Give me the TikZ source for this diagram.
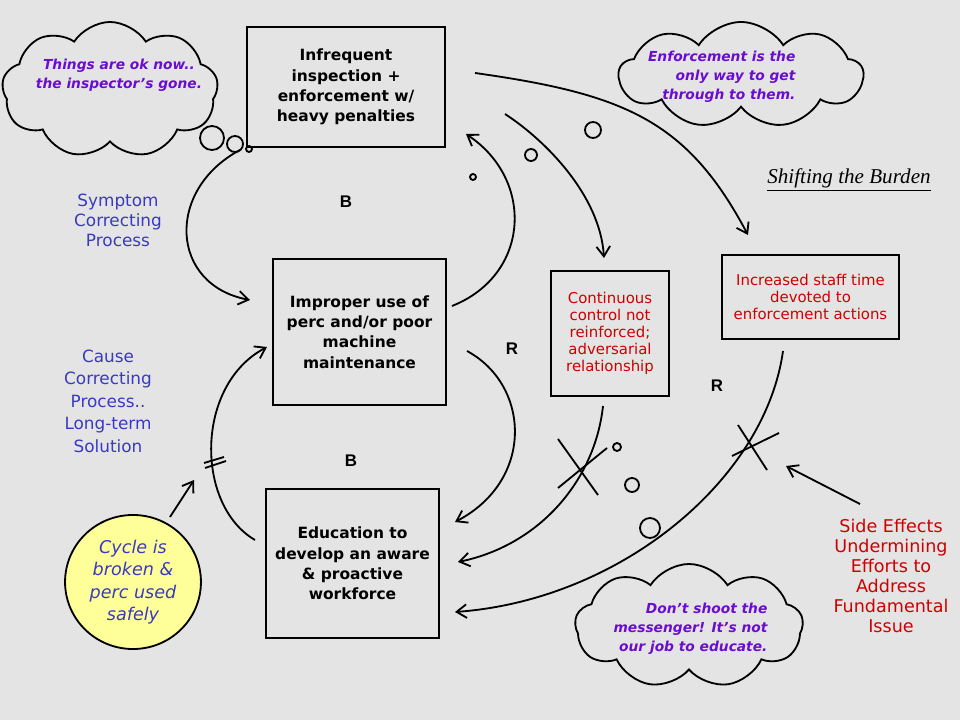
\documentclass[tikz,border=0pt]{standalone}
\usepackage{fontspec}
\setmainfont{DejaVu Sans}
\newfontfamily\labfont{Liberation Sans}
\newfontfamily\burdenfont{Liberation Serif}
\usetikzlibrary{arrows.meta,shapes.geometric,shapes.symbols}
\definecolor{paper}{HTML}{E4E4E4}
\definecolor{noteblue}{HTML}{3A3AC0}
\definecolor{thinkpurple}{HTML}{6A0DD0}
\definecolor{effectred}{HTML}{D00000}
\definecolor{safeyellow}{HTML}{FFFF99}
\begin{document}
\begin{tikzpicture}[x=0.025cm,y=-0.025cm,line width=1.3pt,
    >={Straight Barb[length=2.5mm,width=3.4mm]},
    box/.style={draw,rectangle,align=center,font=\fontsize{11}{14.5}\selectfont\bfseries},
    redbox/.style={draw,rectangle,align=center,text=effectred,font=\fontsize{10.6}{12.2}\selectfont},
    think/.style={draw,cloud,cloud puffs=9,cloud puff arc=115},
    thought/.style={text=thinkpurple,font=\fontsize{9.8}{13.5}\selectfont\bfseries\itshape},
    note/.style={text=noteblue,align=center,font=\fontsize{12}{14.2}\selectfont},
    loop/.style={font=\labfont\fontsize{12}{14}\selectfont\bfseries}]
        \fill [paper] (0,0) rectangle (960,720);
        \node [think,minimum width=5.4cm,minimum height=3.4cm] (okcloud) at (110,90) {};
        \node [think,minimum width=6.1cm,minimum height=2.65cm] (onlycloud) at (741,75) {};
        \node [think,minimum width=5.7cm,minimum height=3.1cm] (shootcloud) at (689,626) {};
        \node [thought,align=center] (oktext) at (119,75) {Things are ok now..\\the inspector’s gone.};
        \node [thought,align=right,anchor=east] (onlytext) at (801,77) {Enforcement is the\\only way to get\\through to them.};
        \node [thought,align=right,anchor=east] (shoottext) at (773,629) {Don’t shoot the\\messenger! It’s not\\our job to educate.};
        \foreach \x/\y/\r in {212/138/12,235/144/8,249/149/3,593/130/8,531/155/6,473/177/3,617/447/4,632/485/7,650/528/10}
          \draw (\x,\y) circle [radius=\r*0.025cm];
        \node [box,minimum width=4.95cm,minimum height=3cm] (inspect) at (346,87) {Infrequent\\inspection +\\enforcement w/\\heavy penalties};
        \node [box,minimum width=4.325cm,minimum height=3.65cm] (improper) at (359.5,332) {Improper use of\\perc and/or poor\\machine\\maintenance};
        \node [box,minimum width=4.325cm,minimum height=3.725cm] (educate) at (352.5,563.5) {Education to\\develop an aware\\\& proactive\\workforce};
        \node [redbox,minimum width=2.95cm,minimum height=3.125cm] (control) at (610,333.5) {Continuous\\control not\\reinforced;\\adversarial\\relationship};
        \node [redbox,minimum width=4.425cm,minimum height=2.1cm] (staff) at (810.5,297) {Increased staff time\\devoted to\\enforcement actions};
        \node [ellipse,draw,fill=safeyellow,minimum width=2.75cm,minimum height=3.35cm,text=noteblue,align=center,font=\fontsize{12.5}{16}\selectfont\itshape] (broken) at (133,582) {Cycle is\\broken \&\\perc used\\safely};
        \node [note] (symptom) at (118,220) {Symptom\\Correcting\\Process};
        \node [note,font=\fontsize{12}{16}\selectfont] (cause) at (108,401) {Cause\\Correcting\\Process..\\Long-term\\Solution};
        \node [note,text=effectred,font=\fontsize{12.5}{14.3}\selectfont] (side) at (891,576) {Side Effects\\Undermining\\Efforts to\\Address\\Fundamental\\Issue};
        \node [font=\burdenfont\fontsize{15}{18}\selectfont\itshape] (burden) at (849,180) {\underline{Shifting the Burden}};
        \node [loop] (b1) at (346,202) {B};
        \node [loop] (b2) at (351,461) {B};
        \node [loop] (r1) at (512,349) {R};
        \node [loop] (r2) at (717,386) {R};
        \coordinate (symptomstart) at (240,150);
        \coordinate (symptomend) at (250,300);
        \coordinate (improperout) at (452,306);
        \coordinate (inspectin) at (466,134);
        \coordinate (improperdown) at (467,351);
        \coordinate (educatein) at (455,522);
        \coordinate (educateout) at (255,540);
        \coordinate (improperin) at (267,347);
        \coordinate (inspectout) at (505,114);
        \coordinate (controlin) at (604,258);
        \coordinate (inspectright) at (475,73);
        \coordinate (staffin) at (748,235);
        \coordinate (controlout) at (603,406);
        \coordinate (educatemid) at (458,562);
        \coordinate (staffout) at (783,351);
        \coordinate (educatelow) at (455,612);
        \coordinate (sidefrom) at (860,504);
        \coordinate (sideto) at (786,466);
        \coordinate (brokenfrom) at (170,517);
        \coordinate (brokento) at (194,480);
        \draw [->] (symptomstart) .. controls (165,190) and (170,285) .. (symptomend);
        \draw [->] (improperout) .. controls (530,275) and (535,180) .. (inspectin);
        \draw [->] (improperdown) .. controls (530,385) and (535,480) .. (educatein);
        \draw [->] (educateout) .. controls (195,505) and (195,385) .. (improperin);
        \draw [->] (inspectout) .. controls (545,140) and (600,195) .. (controlin);
        \draw [->] (inspectright) .. controls (624,94) and (687,120) .. (staffin);
        \draw [->] (controlout) .. controls (595,480) and (540,545) .. (educatemid);
        \draw [->] (staffout) .. controls (765,480) and (620,600) .. (educatelow);
        \draw (204,463) -- (224,457);
        \draw (205,468) -- (226,461);
        \draw (558,439) -- (598,495);
        \draw (558,488) -- (607,448);
        \draw (738,425) -- (767,470);
        \draw (732,456) -- (779,433);
        \draw [->] (sidefrom) -- (sideto);
        \draw [->] (brokenfrom) -- (brokento);
\end{tikzpicture}
\end{document}
